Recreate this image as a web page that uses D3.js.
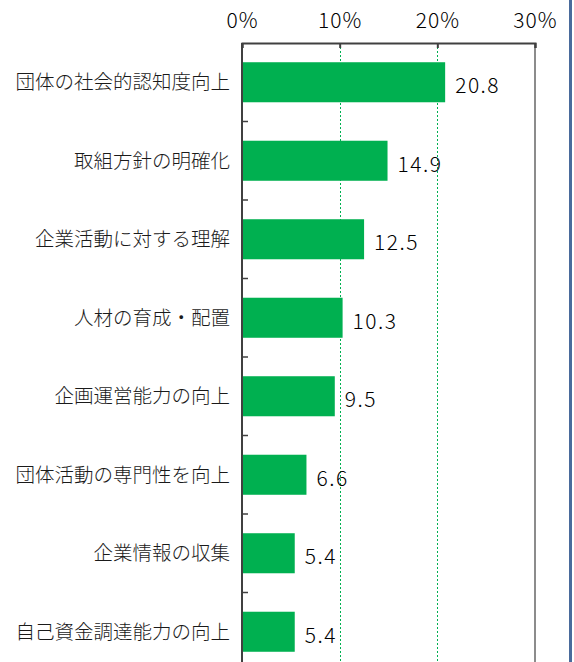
<!DOCTYPE html>
<html>
<head>
<meta charset="utf-8">
<script src="https://cdn.jsdelivr.net/npm/d3@7"></script>
<style>
  body { margin: 0; background: #fff; }
  svg { display: block; }
</style>
</head>
<body>
<svg id="BarChart"></svg>
<script>
// 団体の課題（%）
const categories = [
  "団体の社会的認知度向上",
  "取組方針の明確化",
  "企業活動に対する理解",
  "人材の育成・配置",
  "企画運営能力の向上",
  "団体活動の専門性を向上",
  "企業情報の収集",
  "自己資金調達能力の向上"
];
const values = [20.8, 14.9, 12.5, 10.3, 9.5, 6.6, 5.4, 5.4];
const tickValues = [0, 10, 20, 30];

const W = 574, H = 662;
const margin = {top: 43, left: 242, right: 39};
const plotRight = W - margin.right;
const plotBottom = 671;
const numFont = "'Noto Sans CJK JP', sans-serif";

const svg = d3.select("#BarChart")
    .attr("width", W)
    .attr("height", H);

// X scale
const x = d3.scaleLinear()
    .domain([0, 30])
    .range([margin.left, plotRight]);

// Y scale
const y = d3.scaleBand()
    .domain(categories)
    .range([margin.top, plotBottom])
    .paddingInner(0.49)
    .paddingOuter(0.245);

// gridlines (dotted green)
svg.append("g")
    .selectAll("line")
    .data(tickValues.filter(d => d > 0 && d < 30))
    .join("line")
    .attr("x1", d => Math.round(x(d)) + 0.5).attr("x2", d => Math.round(x(d)) + 0.5)
    .attr("y1", margin.top).attr("y2", H)
    .attr("stroke", "#00b050")
    .attr("stroke-width", 1)
    .attr("stroke-dasharray", "2,2");

// right border
svg.append("line")
    .attr("x1", plotRight).attr("x2", plotRight)
    .attr("y1", margin.top).attr("y2", H)
    .attr("stroke", "#8c8c8c")
    .attr("stroke-width", 2);

// top axis
const xAxis = svg.append("g")
    .attr("transform", `translate(0,${margin.top})`)
    .call(d3.axisTop(x).tickValues(tickValues).tickSize(-5).tickPadding(15).tickFormat(d => d + "%"));
xAxis.select(".domain").attr("stroke", "#404040").attr("stroke-width", 2);
xAxis.selectAll(".tick line").attr("stroke", "#404040").attr("stroke-width", 2);
xAxis.selectAll("text")
    .attr("font-family", numFont)
    .attr("font-weight", 300)
    .attr("font-size", "21px")
    .attr("letter-spacing", "1px")
    .attr("fill", "#000");

// bars
svg.selectAll(".bar")
    .data(values)
    .join("rect")
    .attr("class", "bar")
    .attr("x", x(0))
    .attr("y", (d, i) => y(categories[i]))
    .attr("width", d => x(d) - x(0))
    .attr("height", y.bandwidth())
    .attr("fill", "#00b050");

// left axis line + boundary ticks
svg.append("line")
    .attr("x1", margin.left).attr("x2", margin.left)
    .attr("y1", margin.top).attr("y2", H)
    .attr("stroke", "#404040")
    .attr("stroke-width", 2);

const step = y.step();
svg.append("g")
    .selectAll("line")
    .data(categories.slice(1))
    .join("line")
    .attr("x1", margin.left).attr("x2", margin.left + 6)
    .attr("y1", d => y(d) - step * y.paddingInner() / 2)
    .attr("y2", d => y(d) - step * y.paddingInner() / 2)
    .attr("stroke", "#404040")
    .attr("stroke-width", 1.5);

// category labels
svg.append("g")
    .selectAll("text")
    .data(categories)
    .join("text")
    .attr("x", 230)
    .attr("y", d => y(d) + y.bandwidth() / 2)
    .attr("dy", "0.35em")
    .attr("text-anchor", "end")
    .attr("font-family", "Noto Sans CJK JP, sans-serif")
    .attr("font-weight", 300)
    .attr("font-size", "19.5px")
    .attr("fill", "#1a1a1a")
    .text(d => d);

// value labels
svg.append("g")
    .selectAll("text")
    .data(values)
    .join("text")
    .attr("x", d => x(d) + 10)
    .attr("y", (d, i) => y(categories[i]) + y.bandwidth() / 2 + 11)
    .attr("font-family", numFont)
    .attr("font-weight", 300)
    .attr("font-size", "21px")
    .attr("letter-spacing", "1.5px")
    .attr("fill", "#000")
    .text(d => d.toFixed(1));

// outer blue frame edge
svg.append("rect")
    .attr("x", 569).attr("y", 0)
    .attr("width", 3).attr("height", H)
    .attr("fill", "#4a6b9c");
</script>
</body>
</html>
